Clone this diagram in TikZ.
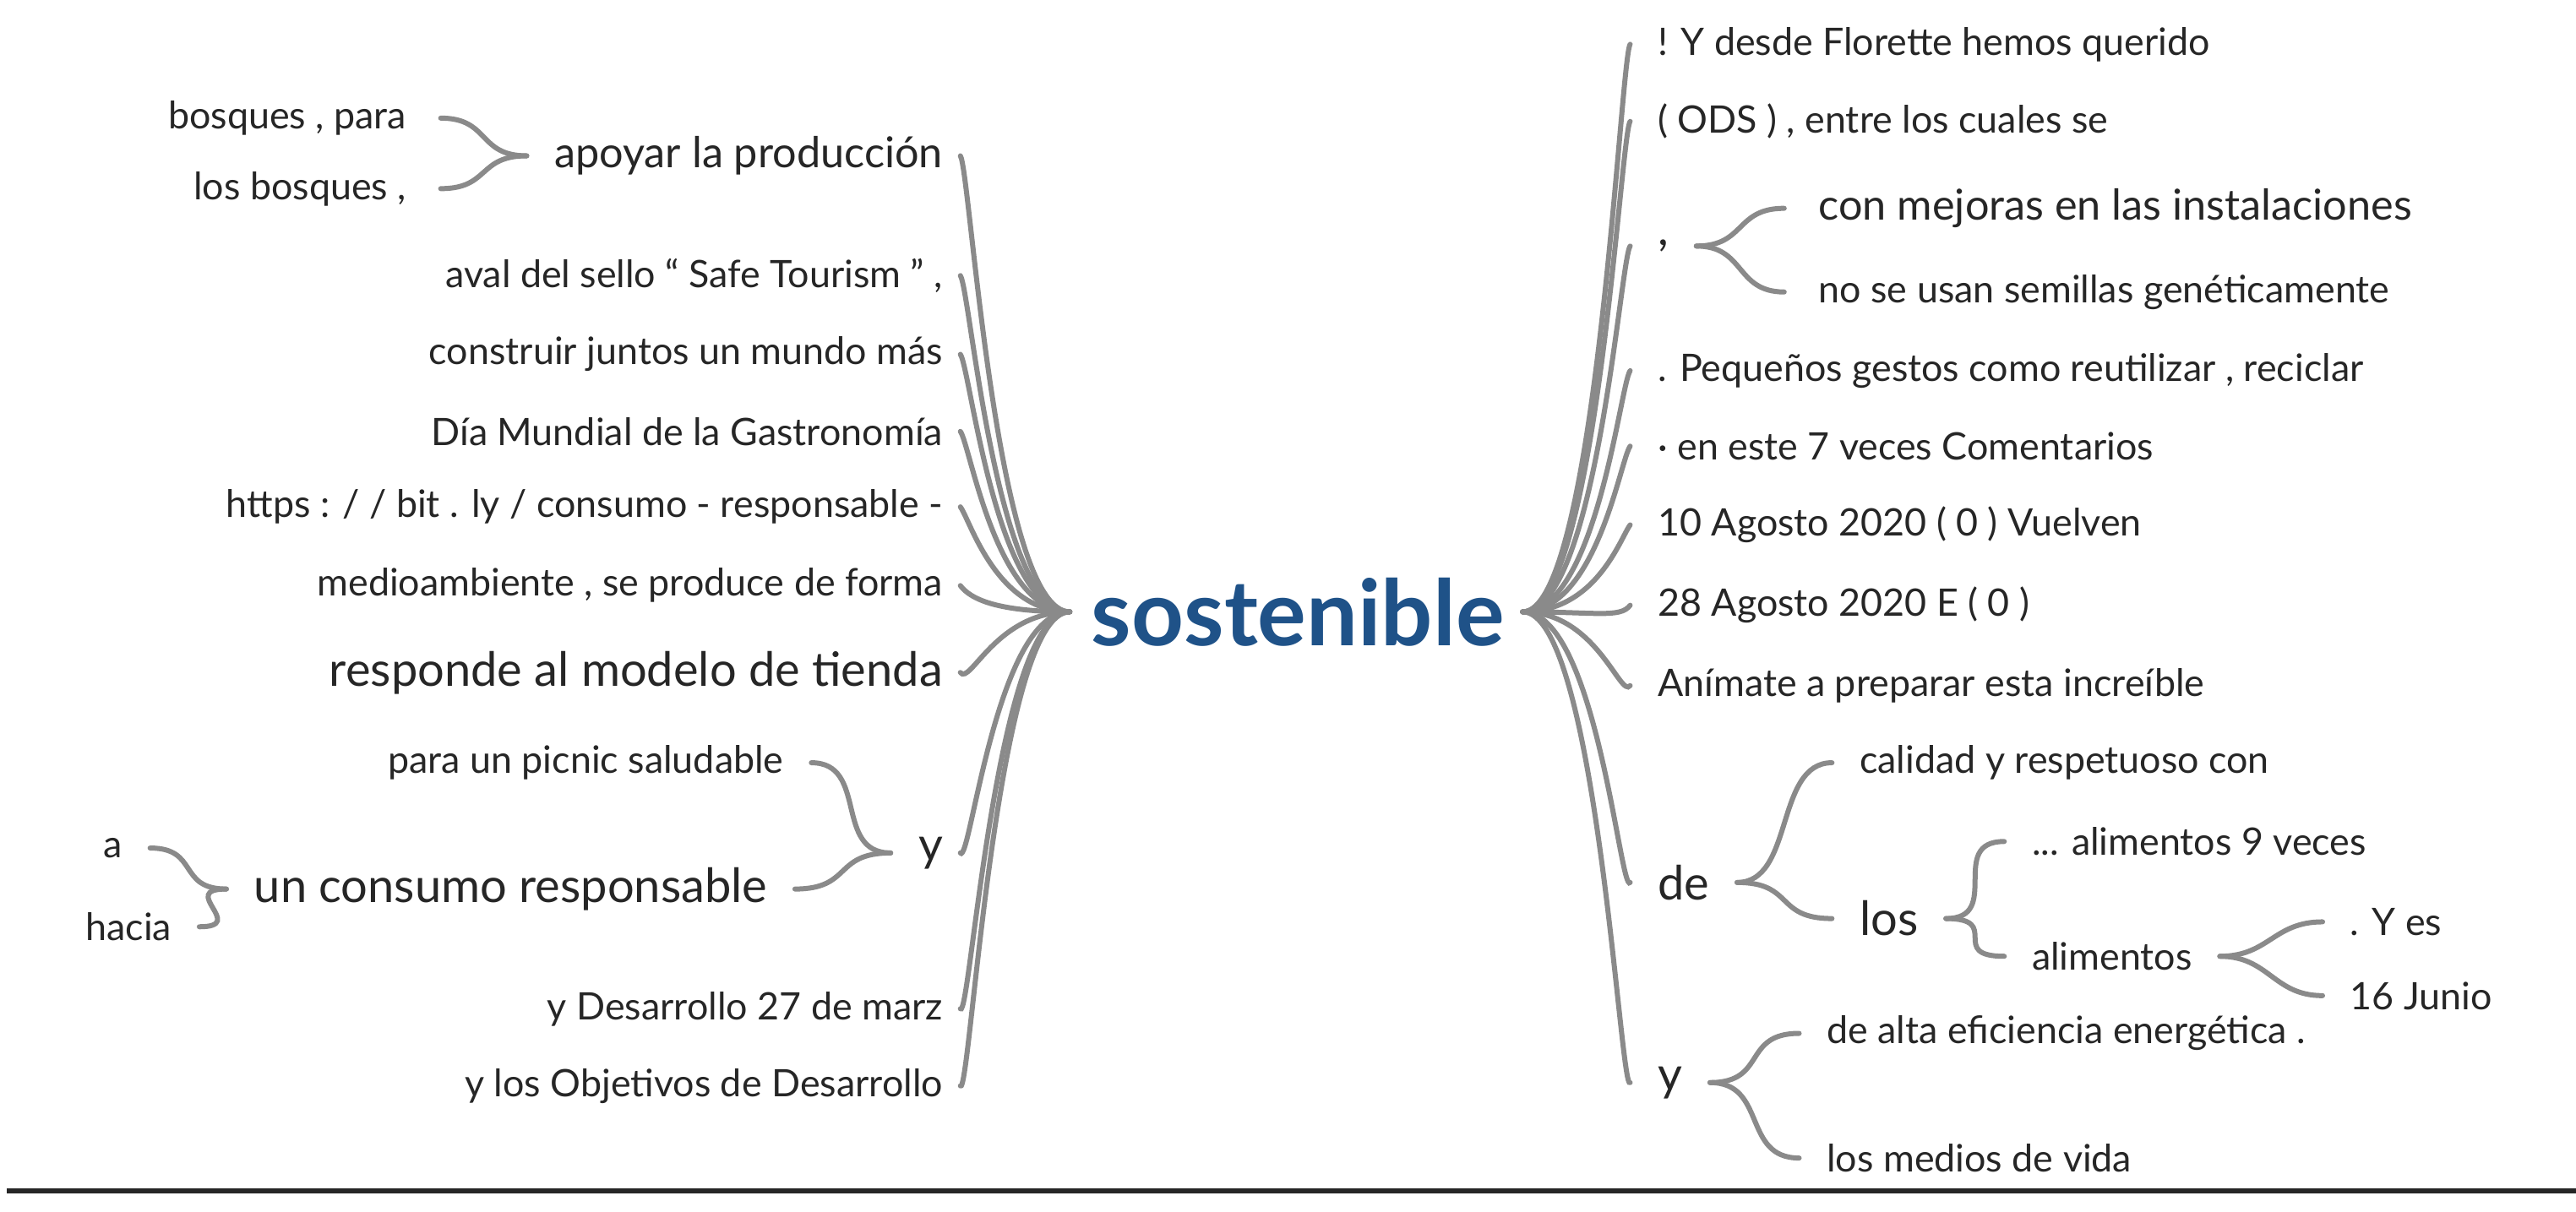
\documentclass[tikz,border=0pt]{standalone}
\usepackage{fontspec}
\setmainfont{Lato}
\definecolor{ln}{HTML}{8A8A8A}
\definecolor{ctr}{HTML}{1F5288}
\begin{document}
\begin{tikzpicture}[x=0.4855pt,y=-0.4855pt,
  tx/.style={inner sep=0pt,text=black!85,font=\fontsize{11.2}{13}\selectfont},
  tm/.style={tx,font=\fontsize{12.6}{15}\selectfont},
  tl/.style={tx,font=\fontsize{14}{17}\selectfont},
  br/.style={draw=ln,line width=1.5pt,line cap=round}]
\useasboundingbox (0,0) rectangle (1570,738.4);
\node[inner sep=0pt,text=ctr,font=\fontsize{27}{31}\bfseries\selectfont] (c) at (791,373) {sostenible};
\coordinate (cl) at (652,373);
\coordinate (cr) at (928,373);
% left items
\foreach \n/\y/\t/\s in {
 L1/95/{apoyar la producción}/tm,
 L2/168/{aval del sello “ Safe Tourism ” ,}/tx,
 L3/216/{construir juntos un mundo más}/tx,
 L4/263/{Día Mundial de la Gastronomía}/tx,
 L5/309/{https : / / bit . ly / consumo - responsable -}/tx,
 L6/357/{medioambiente , se produce de forma}/tx,
 L7/410/{responde al modelo de tienda}/tl,
 L8/520/{y}/tl,
 L9/615/{y Desarrollo 27 de marz}/tx,
 L10/662/{y los Objetivos de Desarrollo}/tx}{
 \node[\s,anchor=east] (\n) at (575,\y) {\t};
 \draw[br] (cl) .. controls +(-45,0) and +(6,8) .. ([xshift=5]\n.east|-0,\y) -- +(0,0);
}
% right items
\foreach \n/\y/\t/\s in {
 R1/27/{! Y desde Florette hemos querido}/tx,
 R2/74/{( ODS ) , entre los cuales se}/tx,
 R3/150/{,}/tl,
 R4/226/{. Pequeños gestos como reutilizar , reciclar}/tx,
 R5/272/{· en este 7 veces Comentarios}/tx,
 R6/320/{10 Agosto 2020 ( 0 ) Vuelven}/tx,
 R7/369/{28 Agosto 2020 E ( 0 )}/tx,
 R8/418/{Anímate a preparar esta increíble}/tx,
 R9/538/{de}/tl,
 R10/660/{y}/tl}{
 \node[\s,anchor=west] (\n) at (1010,\y) {\t};
 \draw[br] (cr) .. controls +(45,0) and +(-6,8) .. ([xshift=-8]\n.west|-0,\y);
}
% left sub-branches
\node[tx,anchor=east] (L1a) at (248,72) {bosques , para};
\node[tx,anchor=east] (L1b) at (248,115) {los bosques ,};
\draw[br] ([xshift=-8]L1.west) .. controls +(-30,0) and +(30,0) .. ([xshift=10]L1a.east);
\draw[br] ([xshift=-8]L1.west) .. controls +(-30,0) and +(30,0) .. ([xshift=10]L1b.east);
\node[tx,anchor=east] (L8a) at (478,465) {para un picnic saludable};
\node[tl,anchor=east] (L8b) at (468,542) {un consumo responsable};
\draw[br] ([xshift=-8]L8.west) .. controls +(-35,0) and +(35,0) .. ([xshift=8]L8a.east);
\draw[br] ([xshift=-8]L8.west) .. controls +(-35,0) and +(35,0) .. ([xshift=8]L8b.east);
\node[tx,anchor=east] (L8b1) at (75,517) {a};
\node[tx,anchor=east] (L8b2) at (105,565) {hacia};
\draw[br] ([xshift=-8]L8b.west) .. controls +(-30,0) and +(30,0) .. ([xshift=8]L8b1.east);
\draw[br] ([xshift=-8]L8b.west) .. controls +(-30,0) and +(30,0) .. ([xshift=8]L8b2.east);
% right sub-branches
\node[tm,anchor=west] (R3a) at (1108,127) {con mejoras en las instalaciones};
\node[tx,anchor=west] (R3b) at (1108,178) {no se usan semillas genéticamente};
\draw[br] ([xshift=8]R3.east) .. controls +(30,0) and +(-30,0) .. ([xshift=-10]R3a.west);
\draw[br] ([xshift=8]R3.east) .. controls +(30,0) and +(-30,0) .. ([xshift=-10]R3b.west);
\node[tx,anchor=west] (R9a) at (1133,465) {calidad y respetuoso con};
\node[tl,anchor=west] (R9b) at (1133,560) {los};
\draw[br] ([xshift=8]R9.east) .. controls +(35,0) and +(-35,0) .. ([xshift=-8]R9a.west);
\draw[br] ([xshift=8]R9.east) .. controls +(35,0) and +(-35,0) .. ([xshift=-8]R9b.west);
\node[tx,anchor=west] (R9b1) at (1238,513) {... alimentos 9 veces};
\node[tx,anchor=west] (R9b2) at (1238,583) {alimentos};
\draw[br] ([xshift=8]R9b.east) .. controls +(35,0) and +(-35,0) .. ([xshift=-8]R9b1.west);
\draw[br] ([xshift=8]R9b.east) .. controls +(35,0) and +(-35,0) .. ([xshift=-8]R9b2.west);
\node[tx,anchor=west] (R9c1) at (1432,562) {. Y es};
\node[tx,anchor=west] (R9c2) at (1432,607) {16 Junio};
\draw[br] ([xshift=8]R9b2.east) .. controls +(30,0) and +(-30,0) .. ([xshift=-8]R9c1.west);
\draw[br] ([xshift=8]R9b2.east) .. controls +(30,0) and +(-30,0) .. ([xshift=-8]R9c2.west);
\node[tx,anchor=west] (R10a) at (1113,630) {de alta eficiencia energética .};
\node[tx,anchor=west] (R10b) at (1113,706) {los medios de vida};
\draw[br] ([xshift=8]R10.east) .. controls +(35,0) and +(-35,0) .. ([xshift=-8]R10a.west);
\draw[br] ([xshift=8]R10.east) .. controls +(35,0) and +(-35,0) .. ([xshift=-8]R10b.west);
% bottom rule
\coordinate (r1) at (4,726);
\coordinate (r2) at (1570,726);
\draw[black!85,line width=1.6pt] (r1) -- (r2);
\end{tikzpicture}
\end{document}
